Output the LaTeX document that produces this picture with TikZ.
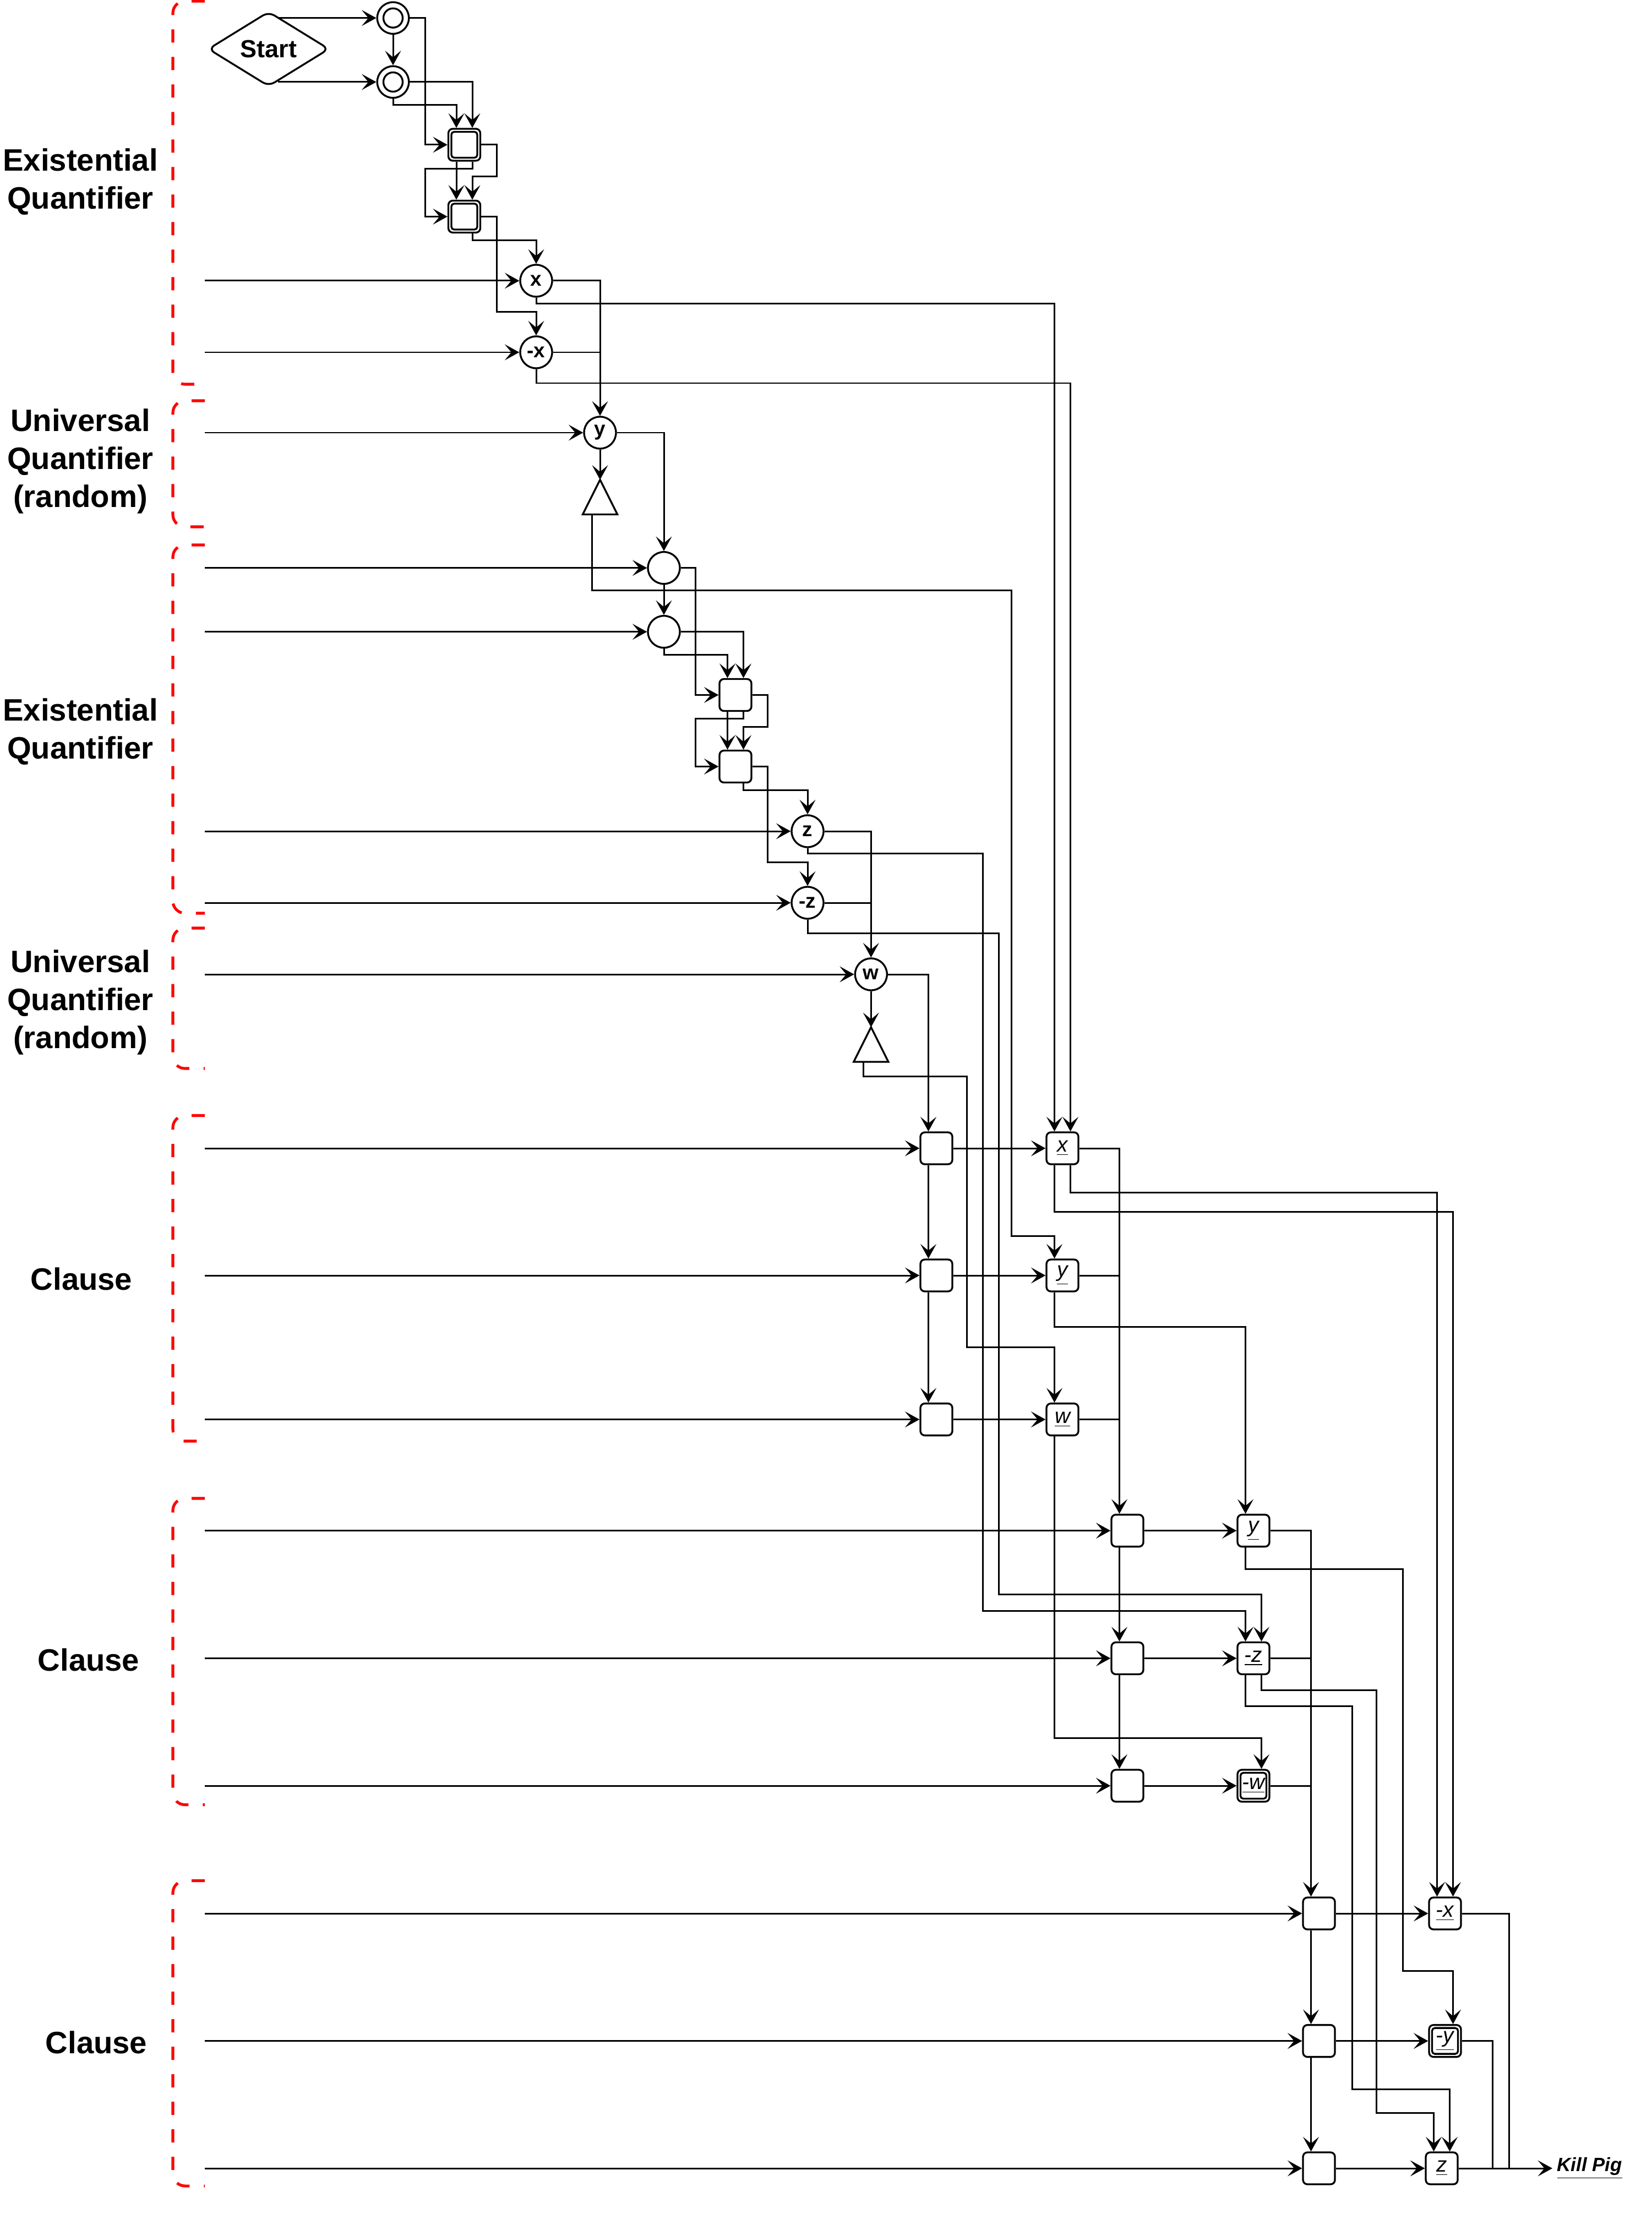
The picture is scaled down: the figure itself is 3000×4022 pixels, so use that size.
\documentclass[tikz,border=0pt]{standalone}
\usepackage{fontspec}
\setmainfont{Liberation Sans}
\usetikzlibrary{arrows.meta,calc,shapes.geometric}
\newlength{\pu}\setlength{\pu}{0.01cm}
\begin{document}
\begin{tikzpicture}[x=0.01cm,y=-0.01cm,
  line width=0.85pt,
  arr/.style={-{Stealth[length=7.5pt,width=8.2pt,inset=3.4pt]}},
  circ/.style={circle,draw,line width=0.95pt,minimum size=58\pu,inner sep=0pt,font=\fontsize{10.5pt}{12pt}\selectfont\bfseries},
  dcirc/.style={circle,draw,line width=0.95pt,minimum size=57.5\pu,inner sep=0pt,
    path picture={\draw[line width=0.95pt] (path picture bounding box.center) circle[radius=17.5\pu];}},
  box/.style={rectangle,rounded corners=8\pu,draw,line width=0.95pt,minimum size=58\pu,inner sep=0pt,font=\fontsize{11pt}{12pt}\selectfont\itshape},
  dbox/.style={box,path picture={\draw[line width=0.95pt,rounded corners=5\pu] ($(path picture bounding box.south west)+(5.5\pu,5.5\pu)$) rectangle ($(path picture bounding box.north east)+(-5.5\pu,-5.5\pu)$);}},
  tri/.style={rectangle,minimum width=60\pu,minimum height=60\pu,inner sep=0pt},
  grp/.style={draw=red,line width=1.45pt,dash pattern=on 24\pu off 26\pu,rounded corners=22\pu},
  lbl/.style={font=\fontsize{16pt}{19.6pt}\selectfont\bfseries,align=center},
]
\useasboundingbox (0,0) rectangle (3000,4022);

% group brackets
\foreach \t/\b in {2/698, 728/957, 990/1659, 1686/1941, 2026.5/2618, 2722/3278.5, 3416.5/3971}
  \draw[grp] (372,\t) -- (314,\t) -- (314,\b) -- (372,\b);

% labels
\node[lbl] (g1) at (146,330) {Existential\\Quantifier};
\node[lbl] (g2) at (146,838) {Universal\\Quantifier\\(random)};
\node[lbl] (g3) at (146,1329) {Existential\\Quantifier};
\node[lbl] (g4) at (146,1821) {Universal\\Quantifier\\(random)};
\node[lbl] (g5) at (148,2323) {Clause};
\node[lbl] (g6) at (161,3015) {Clause};
\node[lbl] (g7) at (175,3710) {Clause};

% nodes
\node[diamond,draw,line width=0.95pt,rounded corners=12\pu,minimum width=220\pu,minimum height=136\pu,inner sep=0pt,aspect=1.6,font=\fontsize{12.8pt}{15pt}\selectfont\bfseries] (start) at (488,89) {Start};
\node[dcirc] (c1) at (714,32.7) {};
\node[dcirc] (c2) at (714,149) {};
\node[dbox] (b1) at (843.5,263) {};
\node[dbox] (b2) at (843.5,393.5) {};
\node[circ] (cx) at (974,510) {x};
\node[circ] (cnx) at (974,640) {-x};
\node[circ] (cy) at (1090,786) {y};
\node[tri] (ty) at (1090,903) {};
\draw[line width=0.95pt] (ty.south west) -- (ty.north) -- (ty.south east) -- cycle;
\node[circ] (cA) at (1206,1031.7) {};
\node[circ] (cB) at (1206,1147.7) {};
\node[box] (b3) at (1336,1262.5) {};
\node[box] (b4) at (1336,1392.5) {};
\node[circ] (cz) at (1467,1510) {z};
\node[circ] (cnz) at (1467,1640) {-z};
\node[circ] (cw) at (1582.3,1770) {w};
\node[tri] (tw) at (1582.3,1897.5) {};
\draw[line width=0.95pt] (tw.south west) -- (tw.north) -- (tw.south east) -- cycle;

\node[box] (C1a) at (1701,2086) {};
\node[box] (C1b) at (1701,2317) {};
\node[box] (C1c) at (1701,2578.6) {};
\node[box] (bx) at (1930,2086) {\underline{x}};
\node[box] (by) at (1930,2317) {\underline{y}};
\node[box] (bw) at (1930,2578.6) {\underline{w}};
\node[box] (C2a) at (2048,2780.6) {};
\node[box] (C2b) at (2048,3012.5) {};
\node[box] (C2c) at (2048,3244) {};
\node[box] (by2) at (2277,2780.6) {\underline{y}};
\node[box] (bnz) at (2277,3012.5) {\underline{-z}};
\node[dbox] (bnw) at (2277,3244) {\underline{-w}};
\node[box] (C3a) at (2396,3476) {};
\node[box] (C3b) at (2396,3707.6) {};
\node[box] (C3c) at (2396,3939) {};
\node[box] (bnx) at (2625,3476) {\underline{-x}};
\node[dbox] (bny) at (2625,3707.6) {\underline{-y}};
\node[box] (bz) at (2619,3939) {\underline{z}};
\node[anchor=west,inner xsep=7\pu,inner ysep=0pt,font=\fontsize{9.9pt}{11pt}\selectfont\bfseries\itshape] (kill) at (2820,3939) {\underline{Kill Pig}};

% input lines
\coordinate (L) at (372,0);
\foreach \n in {cx,cnx,cy,cA,cB,cz,cnz,cw,C1a,C1b,C1c,C2a,C2b,C2c,C3a,C3b,C3c}
  \draw[arr] (\n.west -| L) -- (\n.west);

% top section
\coordinate (sp) at ($(start.center)+(17,0)$);
\draw[arr] (sp |- c1.west) -- (c1.west);
\draw[arr] (sp |- c2.west) -- (c2.west);
\draw[arr] (c1.south) -- (c2.north);
\draw[arr] (c1.east) -| (772,263) -- (b1.west);
\draw[arr] (c2.east) -| ($(b1.north)+(14.5,0)$);
\draw[arr] (c2.south) |- (780,191) -| ($(b1.north)+(-14.5,0)$);
\draw[arr] ($(b1.south)+(-14.5,0)$) -- ($(b2.north)+(-14.5,0)$);
\draw[arr] ($(b1.south)+(14.5,0)$) |- (800,306.7) -| (772,340) |- (b2.west);
\draw[arr] (b1.east) -| (902,300) |- (880,321) -| ($(b2.north)+(14.5,0)$);
\draw[arr] (b2.east) -| (902,500) |- (940,566.7) -| (cnx.north);
\draw[arr] ($(b2.south)+(14.5,0)$) |- (900,436.7) -| (cx.north);
\draw[arr] (cx.east) -| (cy.north);
\draw (cnx.east) -- (cnx.east -| cy.north);
\draw[arr] (cx.south) |- (1200,551.7) -| ($(bx.north)+(-14.5,0)$);
\draw[arr] (cnx.south) |- (1200,696) -| ($(bx.north)+(14.5,0)$);
\draw[arr] (cy.south) -- (ty.north);
\draw[arr] (cy.east) -| (cA.north);
\draw[arr] ($(ty.south)+(-14.6,0)$) |- (1500,1072.7) -| (1837.3,2000) |- (1880,2245) -| ($(by.north)+(-14.5,0)$);
\draw[arr] (cA.south) -- (cB.north);
\draw[arr] (cA.east) -| (1263,1100) |- (b3.west);
\draw[arr] (cB.east) -| ($(b3.north)+(14.5,0)$);
\draw[arr] (cB.south) |- (1280,1189.3) -| ($(b3.north)+(-14.5,0)$);
\draw[arr] ($(b3.south)+(-14.5,0)$) -- ($(b4.north)+(-14.5,0)$);
\draw[arr] ($(b3.south)+(14.5,0)$) |- (1300,1305) -| (1263,1350) |- (b4.west);
\draw[arr] (b3.east) -| (1394.5,1300) |- (1370,1320) -| ($(b4.north)+(14.5,0)$);
\draw[arr] (b4.east) -| (1394.5,1500) |- (1420,1566) -| (cnz.north);
\draw[arr] ($(b4.south)+(14.5,0)$) |- (1400,1435.7) -| (cz.north);
\draw[arr] (cz.east) -| (cw.north);
\draw (cnz.east) -- (cnz.east -| cw.north);
\draw[arr] (cz.south) |- (1600,1550.7) -| (1785.7,2500) |- (2000,2926) -| ($(bnz.north)+(-14.5,0)$);
\draw[arr] (cnz.south) |- (1600,1695.6) -| (1814.3,2500) |- (2000,2896.4) -| ($(bnz.north)+(14.5,0)$);
\draw[arr] (cw.south) -- (tw.north);
\draw[arr] (cw.east) -| ($(C1a.north)+(-14.5,0)$);
\draw[arr] ($(tw.south)+(-14,0)$) |- (1650,1955.8) -| (1756,2200) |- (1850,2447.5) -| ($(bw.north)+(-14.5,0)$);

% clause 1
\draw[arr] (C1a.east) -- (bx.west);
\draw[arr] (C1b.east) -- (by.west);
\draw[arr] (C1c.east) -- (bw.west);
\draw[arr] ($(C1a.south)+(-14.5,0)$) -- ($(C1b.north)+(-14.5,0)$);
\draw[arr] ($(C1b.south)+(-14.5,0)$) -- ($(C1c.north)+(-14.5,0)$);
\coordinate (j2) at ($(C2a.north)+(-14.5,0)$);
\draw[arr] (bx.east) -| (j2);
\draw (by.east) -- (by.east -| j2);
\draw (bw.east) -- (bw.east -| j2);
\draw[arr] ($(bx.south)+(14.5,0)$) |- (2300,2166.8) -| ($(bnx.north)+(-14.5,0)$);
\draw[arr] ($(bx.south)+(-14.5,0)$) |- (2300,2201.5) -| ($(bnx.north)+(14.5,0)$);
\draw[arr] ($(by.south)+(-14.5,0)$) |- (2100,2410.7) -| ($(by2.north)+(-14.5,0)$);
\draw[arr] ($(bw.south)+(-14.5,0)$) |- (2100,3157.6) -| ($(bnw.north)+(14.5,0)$);

% clause 2
\draw[arr] (C2a.east) -- (by2.west);
\draw[arr] (C2b.east) -- (bnz.west);
\draw[arr] (C2c.east) -- (bnw.west);
\draw[arr] ($(C2a.south)+(-14.5,0)$) -- ($(C2b.north)+(-14.5,0)$);
\draw[arr] ($(C2b.south)+(-14.5,0)$) -- ($(C2c.north)+(-14.5,0)$);
\coordinate (j3) at ($(C3a.north)+(-14.5,0)$);
\draw[arr] (by2.east) -| (j3);
\draw (bnz.east) -- (bnz.east -| j3);
\draw (bnw.east) -- (bnw.east -| j3);
\draw[arr] ($(by2.south)+(-14.5,0)$) |- (2400,2850) -| (2548.6,3300) |- (2600,3580) -| ($(bny.north)+(14.5,0)$);
\draw[arr] ($(bnz.south)+(14.5,0)$) |- (2400,3070.5) -| (2500,3500) |- (2550,3838) -| ($(bz.north)+(-14.5,0)$);
\draw[arr] ($(bnz.south)+(-14.5,0)$) |- (2400,3099.5) -| (2456,3500) |- (2550,3795) -| ($(bz.north)+(14.5,0)$);

% clause 3
\draw[arr] (C3a.east) -- (bnx.west);
\draw[arr] (C3b.east) -- (bny.west);
\draw[arr] (C3c.east) -- (bz.west);
\draw[arr] ($(C3a.south)+(-14.5,0)$) -- ($(C3b.north)+(-14.5,0)$);
\draw[arr] ($(C3b.south)+(-14.5,0)$) -- ($(C3c.north)+(-14.5,0)$);
\draw (bnx.east) -| (2741,3939);
\draw (bny.east) -| (2711.6,3939);
\draw[arr] (bz.east) -- (bz.east -| kill.west);
\end{tikzpicture}
\end{document}
